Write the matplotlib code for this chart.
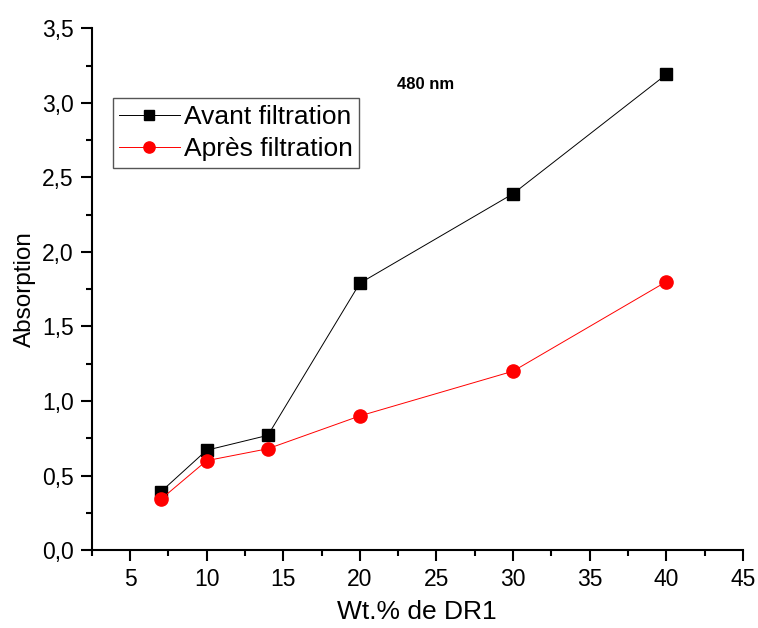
import matplotlib.pyplot as plt
from matplotlib.ticker import MultipleLocator, FuncFormatter

plt.rcParams['font.family'] = ['Liberation Sans', 'DejaVu Sans']

# Data
wt = [7, 10, 14, 20, 30, 40]
avant = [0.39, 0.67, 0.77, 1.79, 2.39, 3.19]
apres = [0.34, 0.60, 0.68, 0.90, 1.20, 1.80]

fig = plt.figure(figsize=(7.58, 6.28), dpi=100)
ax = fig.add_axes([0.121, 0.124, 0.859, 0.831])

ax.plot(wt, avant, color="black", lw=0.7, marker="s", ms=8, label="Avant filtration")
ax.plot(wt, apres, color="red", lw=0.7, marker="o", ms=9.5, label="Après filtration")

ax.set_xlim(2.5, 45)
ax.set_ylim(0, 3.5)
ax.xaxis.set_major_locator(MultipleLocator(5))
ax.xaxis.set_minor_locator(MultipleLocator(2.5))
ax.yaxis.set_major_locator(MultipleLocator(0.5))
ax.yaxis.set_minor_locator(MultipleLocator(0.25))
ax.yaxis.set_major_formatter(FuncFormatter(lambda v, p: f"{v:.1f}".replace(".", ",")))

for s in ["top", "right"]:
    ax.spines[s].set_visible(False)
for s in ["left", "bottom"]:
    ax.spines[s].set_linewidth(1.5)
ax.tick_params(which="major", length=8, width=1.5, labelsize=16.5, direction="out", pad=5)
ax.tick_params(which="minor", length=4, width=1.5, direction="out")

ax.set_xlabel("Wt.% de DR1", fontsize=19, labelpad=6)
ax.set_ylabel("Absorption", fontsize=17.5, labelpad=4)

ax.text(22.4, 3.12, "480 nm", fontsize=12, fontweight="bold", va="center")

leg = ax.legend(loc="upper left", bbox_to_anchor=(0.032, 0.866), borderaxespad=0,
                fontsize=19, fancybox=False, edgecolor="#555555", framealpha=1,
                handlelength=2.3, borderpad=0.25, labelspacing=0.32,
                handletextpad=0.15, markerscale=0.85)
leg.get_frame().set_linewidth(1.0)

fig.savefig("out.png", dpi=100)
